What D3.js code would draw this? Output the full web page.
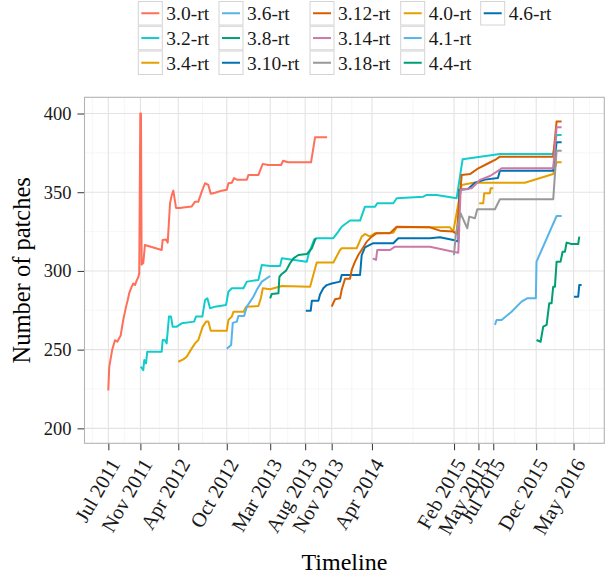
<!DOCTYPE html>
<html><head><meta charset="utf-8">
<script src="https://cdn.jsdelivr.net/npm/d3@7"></script>
<style>
html,body{margin:0;padding:0;background:#fff;}
svg{display:block;font-family:"Liberation Serif","Times New Roman",serif;}
</style></head>
<body><svg id="chart" width="612" height="577"></svg>
<script>
// ---------------- data ----------------
const seriesNames = ["3.0-rt","3.2-rt","3.4-rt","3.6-rt","3.8-rt","3.10-rt","3.12-rt","3.14-rt","3.18-rt","4.0-rt","4.1-rt","4.4-rt","4.6-rt"];
const seriesColors = ["#ff6f59","#12cccc","#e69f00","#56b4e9","#009e73","#0072b2","#d55e00","#cc79a7","#999999","#e69f00","#56b4e9","#009e73","#0072b2"];

// [decimal year, number of patches]
const rt30 = [[2011.561,224],[2011.571,239],[2011.586,244.5],[2011.602,250],[2011.630,256],[2011.654,255],[2011.689,259],[2011.716,269],[2011.744,277],[2011.762,281.5],[2011.778,286],[2011.803,290],[2011.819,292],[2011.837,291],[2011.855,294],[2011.871,296],[2011.881,298.5],[2011.892,400],[2011.899,400],[2011.906,304],[2011.923,305],[2011.940,316.5],[2012.113,313.3],[2012.123,319.7],[2012.157,320],[2012.175,318],[2012.199,343],[2012.216,348],[2012.233,351],[2012.261,340],[2012.302,340],[2012.354,340.5],[2012.423,341],[2012.457,344],[2012.491,344],[2012.526,350.4],[2012.560,355.7],[2012.594,354.6],[2012.619,349],[2012.663,349.7],[2012.733,351],[2012.784,351.5],[2012.801,355.7],[2012.836,356],[2012.860,359],[2012.888,358],[2012.991,358],[2013.008,361],[2013.111,361],[2013.136,365],[2013.156,368],[2013.211,367.3],[2013.345,367.3],[2013.366,370],[2013.418,369],[2013.655,369],[2013.697,385],[2013.821,385]];
const rt32 = [[2011.896,239.2],[2011.923,237],[2011.933,243.4],[2011.951,241.3],[2011.964,248.7],[2012.113,248.7],[2012.123,256.1],[2012.147,256],[2012.164,254],[2012.188,271],[2012.209,271],[2012.226,264.6],[2012.268,264.6],[2012.319,266.7],[2012.447,267.8],[2012.467,271],[2012.532,271],[2012.560,281.5],[2012.584,282.6],[2012.612,276.3],[2012.663,277.3],[2012.777,278.4],[2012.801,286.8],[2012.836,289],[2012.956,289],[2012.991,293.2],[2013.111,294.3],[2013.146,303.8],[2013.232,303.2],[2013.335,303.2],[2013.353,308],[2013.611,305.9],[2013.627,310],[2013.686,319.7],[2013.714,320.8],[2013.886,320.8],[2013.937,325],[2013.972,328.1],[2014.058,332],[2014.162,332],[2014.213,340.8],[2014.317,340.8],[2014.340,343],[2014.506,343],[2014.541,346.2],[2014.816,347.2],[2014.851,348.3],[2014.954,348.3],[2015.161,346.2],[2015.223,371],[2015.608,374.3],[2016.159,374.3],[2016.194,386.4],[2016.246,386.4]];
const rt34 = [[2012.284,242.3],[2012.336,243.8],[2012.371,245.5],[2012.423,250.8],[2012.457,254],[2012.491,256.1],[2012.536,264.6],[2012.571,267.8],[2012.594,267.8],[2012.619,262],[2012.784,262],[2012.801,268.8],[2012.836,271],[2012.853,274],[2012.956,274],[2012.984,277.3],[2013.111,277.7],[2013.136,282.6],[2013.156,289],[2013.232,288.4],[2013.353,290.4],[2013.645,290],[2013.714,305.3],[2013.886,305.3],[2013.955,313.3],[2013.972,314.4],[2014.127,314.4],[2014.179,321.8],[2014.213,323.5],[2014.265,321.8],[2014.317,324],[2014.506,324.3],[2014.541,327.7],[2015.092,327.7],[2015.126,325],[2015.213,354.6],[2015.332,356],[2015.866,356],[2016.159,361.6],[2016.194,369],[2016.246,369]];
const rt36 = [[2012.784,250.5],[2012.829,252.9],[2012.846,267],[2012.888,267.8],[2012.904,271.4],[2012.963,271.4],[2012.991,277.3],[2013.059,283.6],[2013.094,288],[2013.146,293.2],[2013.232,296.8]];
const rt38 = [[2013.232,282.6],[2013.249,285.4],[2013.318,285.8],[2013.328,296.3],[2013.353,298.1],[2013.397,300.2],[2013.438,304.9],[2013.473,308],[2013.524,310.1],[2013.611,310.7],[2013.663,314.4],[2013.704,320.8]];
const rt310 = [[2013.601,274.7],[2013.652,274.7],[2013.663,281],[2013.731,281],[2013.748,285],[2013.782,289],[2013.817,291],[2013.869,292],[2013.955,293.2],[2013.972,297.4],[2014.162,297.4],[2014.179,310.1],[2014.213,315],[2014.299,317.6],[2014.506,317.6],[2014.557,320.8],[2014.885,320.8],[2014.988,321.4],[2015.126,319.7],[2015.178,318.6],[2015.188,351.5],[2015.278,352],[2015.350,356],[2015.454,358],[2015.588,359],[2015.608,363.7],[2016.159,363.7],[2016.194,381.8],[2016.246,381.8]];
const rt312 = [[2013.869,277.3],[2013.903,282],[2013.955,282.6],[2013.972,288],[2014.007,295],[2014.058,295],[2014.076,300.6],[2014.110,305.9],[2014.144,310.1],[2014.189,314.4],[2014.231,318.6],[2014.283,321.8],[2014.334,324],[2014.472,324],[2014.506,326],[2014.541,328.1],[2014.885,327.7],[2014.988,325.6],[2015.126,325],[2015.161,323.5],[2015.213,361],[2015.299,361.5],[2015.385,365.2],[2015.489,368.4],[2015.558,370.5],[2015.608,372.6],[2016.159,372.6],[2016.194,394.9],[2016.246,394.9]];
const rt314 = [[2014.293,308],[2014.327,307],[2014.340,313.3],[2014.472,313.3],[2014.523,315.4],[2014.885,315.4],[2015.126,312.2],[2015.178,311.5],[2015.202,351.5],[2015.316,352.5],[2015.402,357.8],[2015.506,360.3],[2015.608,364.4],[2015.626,365.2],[2016.159,365.2],[2016.194,391.3],[2016.246,391.3]];
const rt318 = [[2015.133,310],[2015.154,324],[2015.202,336.6],[2015.247,330.3],[2015.271,327.1],[2015.291,334.5],[2015.350,333.5],[2015.374,339.2],[2015.557,339.2],[2015.608,345.5],[2016.159,345.5],[2016.194,376.4],[2016.246,376.4]];
const rt40 = [[2015.394,343],[2015.436,343],[2015.446,349.4],[2015.505,349.4],[2015.512,352.5],[2015.539,352.5]];
const rt41 = [[2015.557,265.7],[2015.574,268.8],[2015.626,268.8],[2015.729,274.1],[2015.832,280.5],[2015.890,282.6],[2015.980,282.6],[2015.987,305.9],[2016.194,334.9],[2016.246,334.9]];
const rt44 = [[2015.987,256.1],[2016.029,255],[2016.056,264.6],[2016.091,265.7],[2016.118,279.4],[2016.142,279.4],[2016.159,290],[2016.177,290],[2016.194,305.9],[2016.235,305.9],[2016.256,312.2],[2016.280,312.2],[2016.297,318],[2016.349,317.1],[2016.417,317.1],[2016.428,321.8]];
const rt46 = [[2016.373,283.6],[2016.417,283.6],[2016.428,291.1],[2016.452,291.1]];
const seriesValues = [rt30,rt32,rt34,rt36,rt38,rt310,rt312,rt314,rt318,rt40,rt41,rt44,rt46];

const xTickDates  = ["2011-07-25","2011-11-23","2012-04-14","2012-10-14","2013-03-27","2013-08-06","2013-11-14","2014-04-15","2015-02-19","2015-05-22","2015-07-17","2015-12-26","2016-05-15"];
const xTickLabels = ["Jul 2011","Nov 2011","Apr 2012","Oct 2012","Mar 2013","Aug 2013","Nov 2013","Apr 2014","Feb 2015","May 2015","Jul 2015","Dec 2015","May 2016"];
const yTicks = [200,250,300,350,400];
const xDomainYears = [2011.315, 2016.686];
const yDomain = [190.5, 410.3];

// ---------------- drawing ----------------
const yearToDate = y => { const yr = Math.floor(y); const s = Date.UTC(yr,0,1), e = Date.UTC(yr+1,0,1); return new Date(s + (y-yr)*(e-s)); };
const parse = d3.utcParse("%Y-%m-%d");

const P = {left:84.5, right:604.3, top:97.3, bottom:443.3};
const svg = d3.select("#chart");
const x = d3.scaleUtc().domain(xDomainYears.map(yearToDate)).range([P.left, P.right]);
const y = d3.scaleLinear().domain(yDomain).range([P.bottom, P.top]);

const tickDates = xTickDates.map(parse);
// minor grid (ggplot style midpoints)
const tv = tickDates.map(d => +d);
const bd = tv[1]-tv[0];
const ext = [tv[0]-bd, ...tv, tv[tv.length-1]+bd];
const xMinor = [];
for (let i=0;i<ext.length-1;i++) xMinor.push(new Date((ext[i]+ext[i+1])/2));
const yMinor = [];
const yExt = [yTicks[0]-50, ...yTicks, yTicks[yTicks.length-1]+50];
for (let i=0;i<yExt.length-1;i++) yMinor.push((yExt[i]+yExt[i+1])/2);

const grid = svg.append("g");
grid.selectAll(".xm").data(xMinor.filter(d => x(d)>P.left && x(d)<P.right)).join("line")
  .attr("x1", d=>x(d)).attr("x2", d=>x(d)).attr("y1", P.top).attr("y2", P.bottom)
  .attr("stroke", "#f2f2f2").attr("stroke-width", 0.7);
grid.selectAll(".ym").data(yMinor.filter(v => y(v)>P.top && y(v)<P.bottom)).join("line")
  .attr("x1", P.left).attr("x2", P.right).attr("y1", d=>y(d)).attr("y2", d=>y(d))
  .attr("stroke", "#f2f2f2").attr("stroke-width", 0.7);
grid.selectAll(".xM").data(tickDates).join("line")
  .attr("x1", d=>x(d)).attr("x2", d=>x(d)).attr("y1", P.top).attr("y2", P.bottom)
  .attr("stroke", "#e3e3e3").attr("stroke-width", 1.1);
grid.selectAll(".yM").data(yTicks).join("line")
  .attr("x1", P.left).attr("x2", P.right).attr("y1", d=>y(d)).attr("y2", d=>y(d))
  .attr("stroke", "#e3e3e3").attr("stroke-width", 1.1);

// lines
const line = d3.line().x(d => x(yearToDate(d[0]))).y(d => y(d[1]));
const lines = svg.append("g").attr("fill","none").attr("stroke-width",2).attr("stroke-linejoin","round");
seriesValues.forEach((vals,i) => {
  lines.append("path").datum(vals).attr("d", line).attr("stroke", seriesColors[i]);
});

// panel border
svg.append("rect").attr("x",P.left).attr("y",P.top).attr("width",P.right-P.left).attr("height",P.bottom-P.top)
  .attr("fill","none").attr("stroke","#b3b3b3").attr("stroke-width",1.1);

// axes
const xAxis = d3.axisBottom(x).tickValues(tickDates).tickSize(6.5).tickPadding(0).tickFormat((d,i)=>xTickLabels[i]);
const gx = svg.append("g").attr("transform",`translate(0,${P.bottom+0.5})`).call(xAxis);
gx.select(".domain").remove();
gx.selectAll(".tick line").attr("stroke","#333").attr("stroke-width",1);
gx.selectAll(".tick text").attr("font-size",20.5).attr("font-family","Liberation Serif").attr("fill","#1a1a1a")
  .attr("text-anchor","end").attr("y",0).attr("dy",0)
  .attr("transform","translate(0,13) rotate(-60) translate(0,14)");

const yAxis = d3.axisLeft(y).tickValues(yTicks).tickSize(6.5).tickPadding(6);
const gy = svg.append("g").attr("transform",`translate(${P.left-0.5},0)`).call(yAxis);
gy.select(".domain").remove();
gy.selectAll(".tick line").attr("stroke","#333").attr("stroke-width",1);
gy.selectAll(".tick text").attr("font-size",18.5).attr("font-family","Liberation Serif").attr("fill","#1a1a1a");

// axis titles
svg.append("text").attr("x",(P.left+P.right)/2).attr("y",570).attr("text-anchor","middle")
  .attr("font-size",24).attr("fill","#000").text("Timeline");
svg.append("text").attr("transform",`translate(30,${(P.top+P.bottom)/2}) rotate(-90)`).attr("text-anchor","middle")
  .attr("font-size",24.5).attr("fill","#000").text("Number of patches");

// legend (3 rows, filled column-wise)
const colX = [138.3, 219, 310, 400.7, 480.7];
const rowY = [1.5, 26.3, 51];
const leg = svg.append("g");
seriesNames.forEach((name,i) => {
  const c = Math.floor(i/3), r = i%3;
  const g = leg.append("g").attr("transform",`translate(${colX[c]},${rowY[r]})`);
  g.append("rect").attr("width",24).attr("height",23.5).attr("fill","#fff").attr("stroke","#d4d4d4").attr("stroke-width",1);
  g.append("line").attr("x1",3).attr("x2",21).attr("y1",11.75).attr("y2",11.75).attr("stroke",seriesColors[i]).attr("stroke-width",2);
  g.append("text").attr("x",28).attr("y",11.75).attr("dy","0.35em").attr("font-size",19.5).attr("fill","#1a1a1a").text(name);
});
</script></body></html>
